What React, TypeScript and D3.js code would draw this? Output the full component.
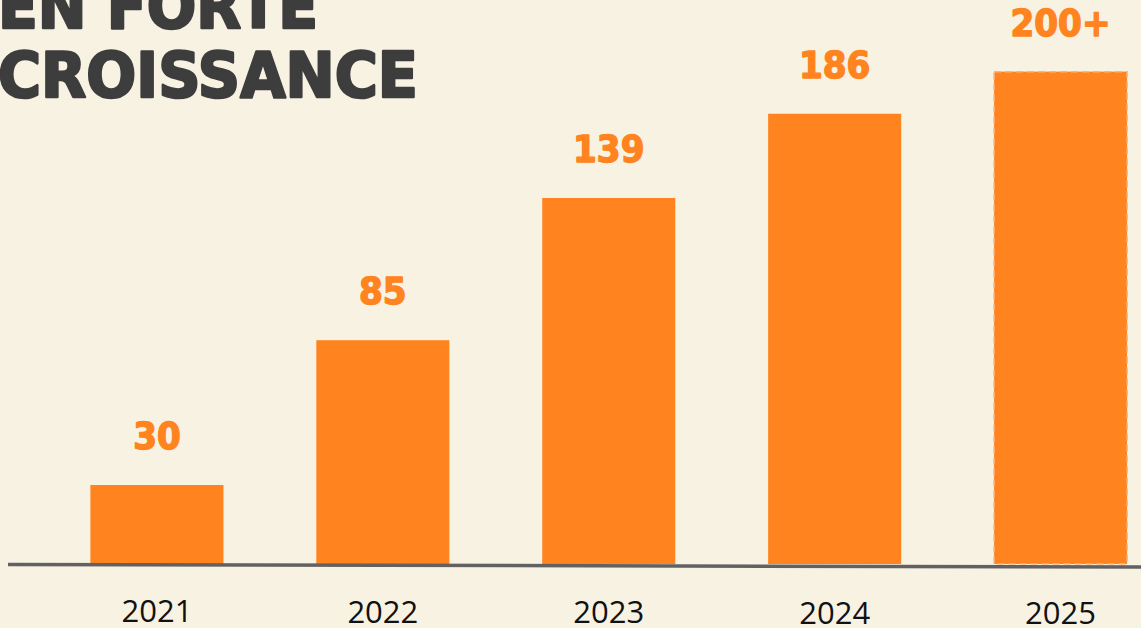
import React from "react";
import * as d3 from "d3";

const years = ["2021", "2022", "2023", "2024", "2025"];
// bar heights as drawn (data units)
const barValues = [30, 85, 139, 171, 187];
const valueLabels = ["30", "85", "139", "186", "200+"];
const titleLines = ["EN FORTE", "CROISSANCE"];

const W = 1141;
const H = 628;
const BG = "#f8f2e3";
const ORANGE = "#ff8420";
const DARK = "#3d3d3d";

export default function App() {
  const baseY = 564;
  const x = d3
    .scaleBand<string>()
    .domain(years)
    .range([90.4, 1127.1])
    .paddingInner(0.411)
    .paddingOuter(0);
  const y = d3.scaleLinear().domain([0, 200]).range([baseY, baseY - 2.633 * 200]);

  const lineX0 = 8;
  const lineX1 = W;
  const tilt = (px: number) => ((px - lineX0) / (lineX1 - lineX0)) * 2.5;

  return (
    <svg
      width={W}
      height={H}
      style={{ position: "absolute", left: 0, top: 0, display: "block" }}
    >
      <rect x={0} y={0} width={W} height={H} fill={BG} />
      {/* title */}
      <text
        x={-2}
        y={28}
        fontFamily="DejaVu Sans"
        fontWeight={700}
        fontSize={62}
        fill={DARK}
        stroke={DARK}
        strokeWidth={2.6}
        strokeLinejoin="round"
        textLength={320}
        lengthAdjust="spacingAndGlyphs"
      >
        {titleLines[0]}
      </text>
      <text
        x={-2}
        y={97}
        fontFamily="DejaVu Sans"
        fontWeight={700}
        fontSize={62}
        fill={DARK}
        stroke={DARK}
        strokeWidth={2.6}
        strokeLinejoin="round"
        textLength={420}
        lengthAdjust="spacingAndGlyphs"
      >
        {titleLines[1]}
      </text>

      {/* bars */}
      {years.map((yr, i) => {
        const bx = x(yr)!;
        const top = y(barValues[i]);
        const last = i === years.length - 1;
        return (
          <g key={yr}>
            <rect
              x={bx}
              y={top}
              width={x.bandwidth()}
              height={baseY - top}
              fill={ORANGE}
              stroke={last ? "#fbb57c" : "none"}
              strokeWidth={last ? 1.5 : 0}
              strokeDasharray={last ? "7,4" : undefined}
            />
            <text
              x={bx + x.bandwidth() / 2}
              y={top - 36}
              textAnchor="middle"
              fontFamily="'DejaVu Sans Condensed', 'DejaVu Sans'"
              fontWeight={700}
              fontSize={38}
              fill={ORANGE}
              stroke={ORANGE}
              strokeWidth={1.4}
              strokeLinejoin="round"
            >
              {valueLabels[i]}
            </text>
          </g>
        );
      })}

      {/* axis line */}
      <line
        x1={lineX0}
        y1={564.5}
        x2={lineX1}
        y2={564.5 + tilt(lineX1)}
        stroke="#616161"
        strokeWidth={3.5}
      />

      {/* year labels */}
      {years.map((yr) => {
        const cx = x(yr)! + x.bandwidth() / 2;
        return (
          <text
            key={yr}
            x={cx}
            y={622 + tilt(cx)}
            textAnchor="middle"
            fontFamily="'Open Sans'"
            fontWeight={400}
            fontSize={31}
            fill="#111"
          >
            {yr}
          </text>
        );
      })}
    </svg>
  );
}
